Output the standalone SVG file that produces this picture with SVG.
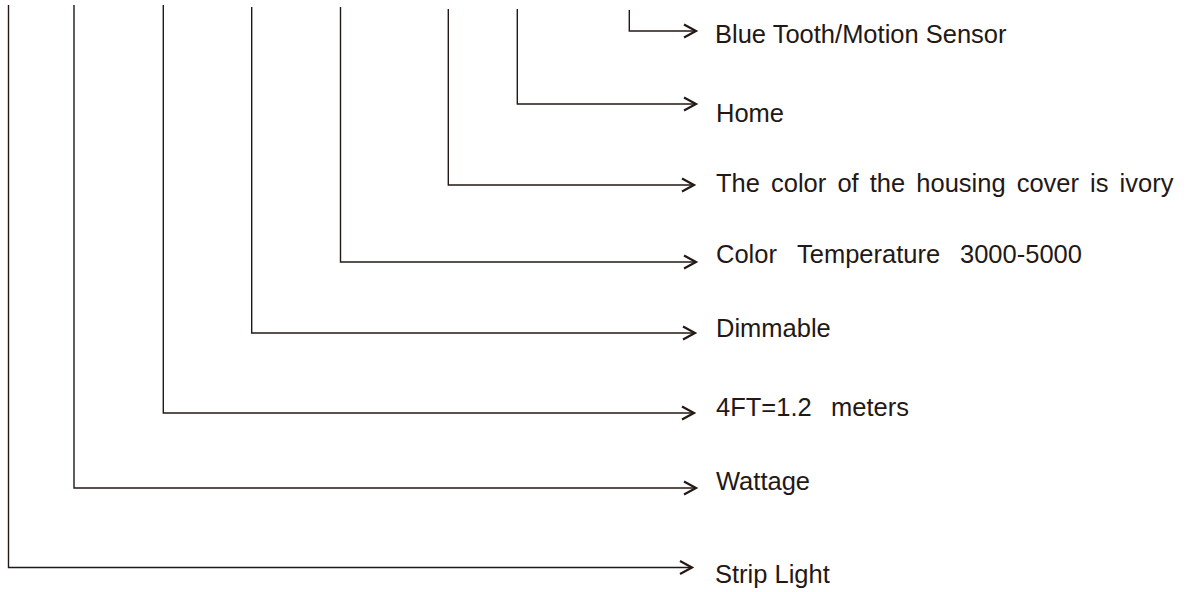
<svg xmlns="http://www.w3.org/2000/svg" width="1194" height="592" viewBox="0 0 1194 592">
<style>
.c{fill:none;stroke:#231815;stroke-width:1.4}
.t{font-family:"Liberation Sans",Arial,sans-serif;font-size:25.5px;fill:#231815}
</style>
<defs>
<marker id="arr" markerUnits="userSpaceOnUse" markerWidth="18" markerHeight="18" viewBox="-15 -9 18 18" refX="0" refY="0" orient="auto">
<path d="M-12,-6.5 L0,0 L-12,6.5" fill="none" stroke="#231815" stroke-width="2.2"/>
</marker>
</defs>
<rect width="1194" height="592" fill="#ffffff"/>
<g id="connectors">
<path class="c" d="M629.3,10 V31 H696" marker-end="url(#arr)"/>
<path class="c" d="M517.3,9 V104 H696" marker-end="url(#arr)"/>
<path class="c" d="M448.3,9 V185 H694" marker-end="url(#arr)"/>
<path class="c" d="M340.5,7 V262 H696" marker-end="url(#arr)"/>
<path class="c" d="M251.7,7 V333 H695" marker-end="url(#arr)"/>
<path class="c" d="M163.3,5 V413 H694" marker-end="url(#arr)"/>
<path class="c" d="M74,5 V488 H696" marker-end="url(#arr)"/>
<path class="c" d="M8.5,5 V567.5 H692" marker-end="url(#arr)"/>
</g>
<g id="n-bluetooth"><text class="t" x="715" y="43">Blue Tooth/Motion Sensor</text></g>
<g id="n-home"><text class="t" x="716" y="122">Home</text></g>
<g id="n-housing"><text class="t" x="716" y="192" word-spacing="4">The color of the housing cover is ivory</text></g>
<g id="n-colortemp"><text class="t" y="263"><tspan x="716">Color</tspan><tspan x="797">Temperature</tspan><tspan x="960">3000-5000</tspan></text></g>
<g id="n-dimmable"><text class="t" x="716" y="337">Dimmable</text></g>
<g id="n-length"><text class="t" y="416"><tspan x="716">4FT=1.2</tspan><tspan x="831">meters</tspan></text></g>
<g id="n-wattage"><text class="t" x="716" y="490">Wattage</text></g>
<g id="n-strip"><text class="t" x="715" y="583">Strip Light</text></g>
</svg>
